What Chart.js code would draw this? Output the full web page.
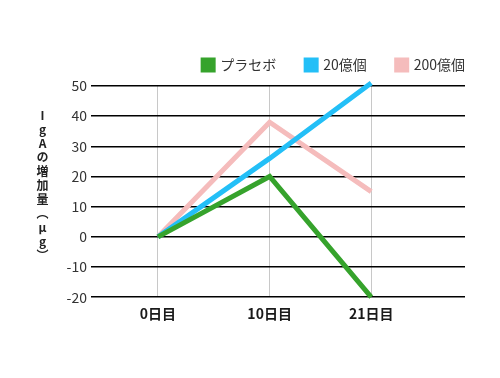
<!DOCTYPE html>
<html>
<head>
<meta charset="utf-8">
<script src="https://cdn.jsdelivr.net/npm/chart.js@4"></script>
<style>
    html, body { margin: 0; padding: 0; background: #fff; }
    #wrap { position: relative; width: 500px; height: 378px; }
    #ytitle {
        position: absolute;
        left: 35px;
        top: 109px;
        writing-mode: vertical-rl;
        text-orientation: upright;
        font: bold 12px "Noto Sans CJK JP", sans-serif;
        letter-spacing: 2px;
        line-height: 14px;
        color: #222;
    }
</style>
</head>
<body>
<div id="wrap">
    <canvas id="chart1"></canvas>
    <div id="ytitle"></div>
</div>
<script>
const dayLabels = ['0日目', '10日目', '21日目'];
const dayPos = [0, 10, 19.1];
const placebo = [0, 20, -20];
const twoBillion = [0, 26, 51];
const twentyBillion = [0, 38, 15];
const yTitle = 'IgAの増加量（μg）';

const jpFont = '"Noto Sans CJK JP", "Noto Sans", sans-serif';

document.getElementById('ytitle').textContent = yTitle;

function toPoints(values) {
    return values.map((v, i) => ({ x: dayPos[i], y: v }));
}

// legend: a bit more room below, and shifted right over the trailing gap
const legendFix = {
    id: 'legendFix',
    beforeInit(chart) {
        const legend = chart.legend;
        const fit = legend.fit;
        legend.fit = function () {
            fit.call(this);
            this.height += 4;
        };
        const draw = legend.draw;
        legend.draw = function () {
            const pad = this.options.labels.padding;
            this.ctx.save();
            this.ctx.translate(pad, 0);
            draw.apply(this, arguments);
            this.ctx.restore();
        };
    }
};

const ctx = document.getElementById('chart1').getContext('2d');
new Chart(ctx, {
    type: 'line',
    data: {
        datasets: [
            {
                label: 'プラセボ',
                data: toPoints(placebo),
                borderColor: '#36a32c',
                backgroundColor: '#36a32c',
                borderWidth: 5,
                pointRadius: 0,
                clip: 6
            },
            {
                label: '20億個',
                data: toPoints(twoBillion),
                borderColor: '#23bff7',
                backgroundColor: '#23bff7',
                borderWidth: 5,
                pointRadius: 0,
                clip: 6
            },
            {
                label: '200億個',
                data: toPoints(twentyBillion),
                borderColor: '#f5bcbc',
                backgroundColor: '#f5bcbc',
                borderWidth: 5,
                pointRadius: 0,
                clip: 6
            }
        ]
    },
    options: {
        responsive: true,
        maintainAspectRatio: false,
        animation: false,
        layout: {
            padding: { top: 28, right: 35, bottom: 48, left: 51 }
        },
        plugins: {
            legend: {
                position: 'top',
                align: 'end',
                labels: {
                    boxWidth: 10,
                    boxHeight: 10,
                    padding: 30,
                    color: '#333',
                    font: { family: jpFont, size: 14 }
                }
            },
            tooltip: { enabled: false }
        },
        scales: {
            x: {
                type: 'linear',
                min: -6,
                max: 27.5,
                afterBuildTicks(scale) {
                    scale.ticks = dayPos.map(v => ({ value: v }));
                },
                ticks: {
                    autoSkip: false,
                    maxRotation: 0,
                    padding: 8,
                    color: '#1a1a1a',
                    font: { family: jpFont, size: 14, weight: '600' },
                    callback: (value, index) => dayLabels[index]
                },
                grid: {
                    color: '#c8c8c8',
                    lineWidth: 1,
                    drawTicks: false
                },
                border: { display: false }
            },
            y: {
                min: -20,
                max: 50,
                afterFit(scale) {
                    scale.width = 40;
                },
                ticks: {
                    stepSize: 10,
                    padding: 4,
                    color: '#333',
                    font: { family: jpFont, size: 14 }
                },
                grid: {
                    color: '#000',
                    lineWidth: 1.5,
                    drawTicks: false
                },
                border: { display: false }
            }
        }
    },
    plugins: [legendFix]
});
</script>
</body>
</html>
